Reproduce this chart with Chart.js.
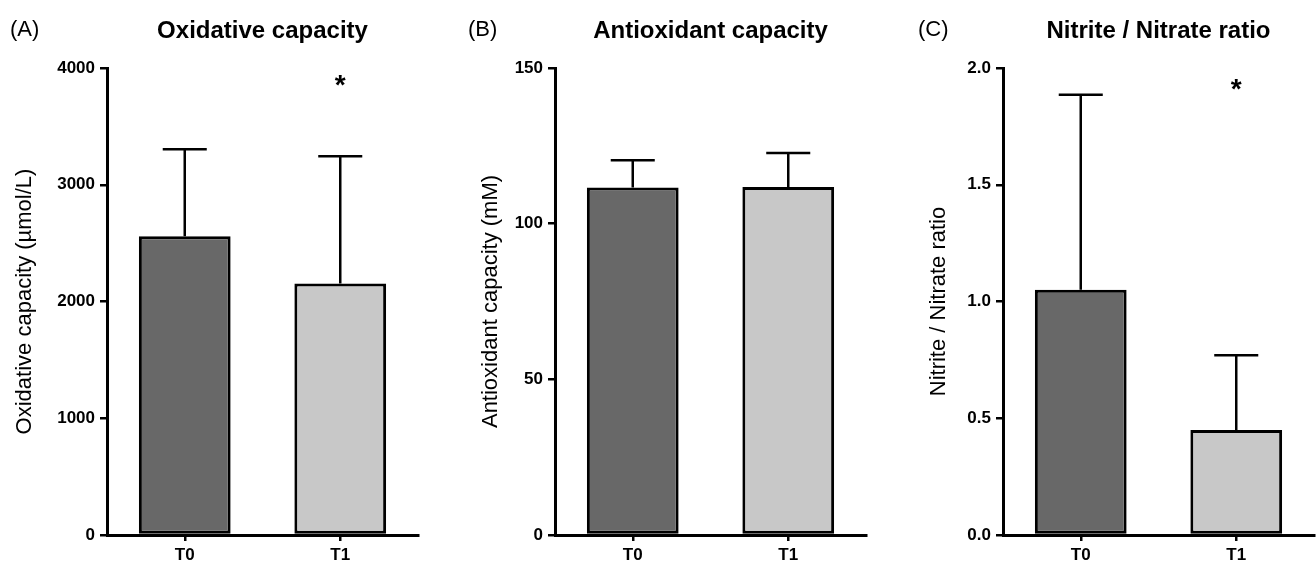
<!DOCTYPE html>
<html><head><meta charset="utf-8">
<script src="https://cdn.jsdelivr.net/npm/chart.js@4.4.1/dist/chart.umd.min.js"></script>
<style>
html,body{margin:0;padding:0;background:#fff;width:1316px;height:564px;overflow:hidden}
canvas{position:absolute;top:0}
</style></head><body>
<canvas id="ca" width="440" height="564" style="left:0px"></canvas>
<canvas id="cb" width="420" height="564" style="left:466px"></canvas>
<canvas id="cc" width="402" height="564" style="left:914px"></canvas>
<script>
// ---- data ----
const categories = ['T0', 'T1'];
const oxidMean = [2558, 2155];
const oxidSD = [747, 1090];
const oxidSig = ['', '*'];
const antiMean = [111.6, 111.8];
const antiSD = [8.8, 10.9];
const antiSig = ['', ''];
const ratioMean = [1.05, 0.45];
const ratioSD = [0.835, 0.32];
const ratioSig = ['', '*'];
const barColors = ['#686868', '#c8c8c8'];

const FONT = "'Liberation Sans', Arial, Helvetica, sans-serif";
Chart.defaults.font.family = FONT;
Chart.defaults.color = '#000';

function makeDecor(cfg) {
  return {
    id: 'decor',
    afterDatasetsDraw(chart) {
      const ctx = chart.ctx;
      const y = chart.scales.y;
      const meta = chart.getDatasetMeta(0);
      const ca = chart.chartArea;
      ctx.save();
      ctx.strokeStyle = '#000';
      ctx.fillStyle = '#000';
      ctx.lineWidth = 2.5;
      meta.data.forEach((bar, i) => {
        const base = y.getPixelForValue(cfg.mean[i]);
        const top = y.getPixelForValue(cfg.mean[i] + cfg.sd[i]);
        const half = bar.width * 0.24;
        ctx.beginPath();
        ctx.moveTo(bar.x, base);
        ctx.lineTo(bar.x, top);
        ctx.moveTo(bar.x - half, top);
        ctx.lineTo(bar.x + half, top);
        ctx.stroke();
        if (cfg.sig[i]) {
          ctx.font = 'bold 28px ' + FONT;
          ctx.textAlign = 'center';
          ctx.textBaseline = 'alphabetic';
          ctx.fillText(cfg.sig[i], bar.x, ca.top + cfg.sigDy);
        }
      });
      ctx.font = 'bold 24px ' + FONT;
      ctx.textAlign = 'center';
      ctx.textBaseline = 'alphabetic';
      ctx.fillText(cfg.title, (ca.left + ca.right) / 2, 38);
      ctx.font = '22px ' + FONT;
      ctx.textAlign = 'left';
      ctx.fillText(cfg.letter, cfg.letterX, 36);
      ctx.restore();
    }
  };
}

function makePanel(id, cfg) {
  const axisStyle = { color: '#000', lineWidth: 2.5, drawOnChartArea: false };
  new Chart(document.getElementById(id), {
    type: 'bar',
    data: {
      labels: categories,
      datasets: [{
        data: cfg.mean,
        backgroundColor: barColors,
        borderColor: '#000',
        borderWidth: 3,
        borderSkipped: false,
        barPercentage: 0.59,
        categoryPercentage: 1
      }]
    },
    options: {
      responsive: false,
      animation: false,
      layout: { padding: { top: 68, bottom: 0, left: 0, right: cfg.rightPad } },
      plugins: { legend: { display: false }, tooltip: { enabled: false }, title: { display: false } },
      scales: {
        x: {
          offset: true,
          grid: Object.assign({ offset: false, tickLength: 6 }, axisStyle),
          border: { color: '#000', width: 3 },
          ticks: { font: { size: 17, weight: 'bold' }, color: '#000', padding: 4 },
          afterFit(s) { s.height = 29; }
        },
        y: {
          min: 0,
          max: cfg.max,
          grid: Object.assign({ tickLength: 7 }, axisStyle),
          border: { color: '#000', width: 3 },
          ticks: {
            stepSize: cfg.step,
            font: { size: 17, weight: 'bold' },
            color: '#000',
            padding: 5,
            callback: v => v.toFixed(cfg.decimals)
          },
          title: {
            display: true,
            text: cfg.yTitle,
            font: { size: 22 },
            color: '#000',
            padding: { top: 12, bottom: 0 }
          },
          afterFit(s) { s.width = cfg.axisWidth; }
        }
      }
    },
    plugins: [makeDecor(cfg)]
  });
}

makePanel('ca', {
  mean: oxidMean, sd: oxidSD, sig: oxidSig, max: 4000, step: 1000, decimals: 0,
  title: 'Oxidative capacity', yTitle: 'Oxidative capacity (\u00b5mol/L)', letter: '(A)', letterX: 10,
  axisWidth: 107, rightPad: 22, sigDy: 26
});
makePanel('cb', {
  mean: antiMean, sd: antiSD, sig: antiSig, max: 150, step: 50, decimals: 0,
  title: 'Antioxidant capacity', yTitle: 'Antioxidant capacity (mM)', letter: '(B)', letterX: 2,
  axisWidth: 89, rightPad: 20, sigDy: 26
});
makePanel('cc', {
  mean: ratioMean, sd: ratioSD, sig: ratioSig, max: 2.0, step: 0.5, decimals: 1,
  title: 'Nitrite / Nitrate ratio', yTitle: 'Nitrite / Nitrate ratio', letter: '(C)', letterX: 4,
  axisWidth: 89, rightPad: 2, sigDy: 30
});
</script>
</body></html>
